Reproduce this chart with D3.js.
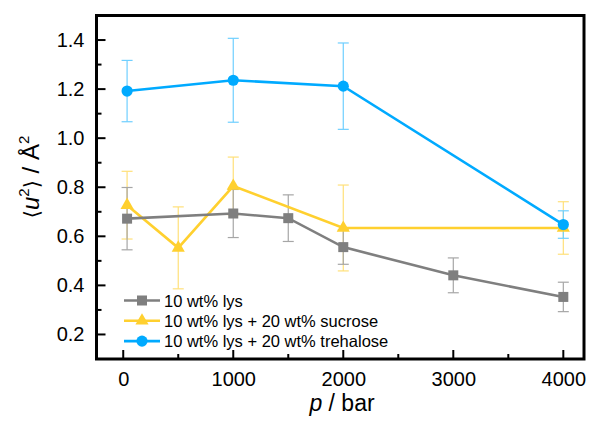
<!DOCTYPE html>
<html>
<head>
<meta charset="utf-8">
<script src="https://cdn.jsdelivr.net/npm/d3@7/dist/d3.min.js"></script>
<style>
  html, body { margin: 0; padding: 0; background: #fff; }
  svg { display: block; font-family: "Liberation Sans", Arial, sans-serif; }
</style>
</head>
<body>
<svg id="chart" width="590" height="421"></svg>
<script>
// ---- data ----
const lysP    = [35, 1000, 1500, 2000, 3000, 4000];
const lysU    = [0.672, 0.693, 0.674, 0.556, 0.441, 0.353];
const lysErr  = [0.127, 0.098, 0.095, 0.07, 0.071, 0.06];

const sucP    = [35, 500, 1000, 2000, 4000];
const sucU    = [0.727, 0.553, 0.805, 0.634, 0.634];
const sucErr  = [0.138, 0.167, 0.118, 0.175, 0.107];

const treP    = [35, 1000, 2000, 4000];
const treU    = [1.192, 1.236, 1.212, 0.648];
const treErr  = [0.125, 0.171, 0.176, 0.056];

const xTicks = [0, 1000, 2000, 3000, 4000];
const yTicks = [0.2, 0.4, 0.6, 0.8, 1.0, 1.2, 1.4];

const seriesNames = ['10 wt% lys', '10 wt% lys + 20 wt% sucrose', '10 wt% lys + 20 wt% trehalose'];

// ---- layout ----
const svg = d3.select('#chart');
const plot = { left: 96.5, right: 584, top: 15.5, bottom: 359 };

const x = d3.scaleLinear().domain([-243, 4188]).range([plot.left, plot.right]);
const y = d3.scaleLinear().domain([0.1, 1.5]).range([plot.bottom, plot.top]);

const series = [
  { name: seriesNames[1], p: sucP, u: sucU, e: sucErr, color: '#ffd02f', errColor: '#ffe07a', shape: 'triangle' },
  { name: seriesNames[0], p: lysP, u: lysU, e: lysErr, color: '#7f7f7f', errColor: '#a6a6a6', shape: 'square' },
  { name: seriesNames[2], p: treP, u: treU, e: treErr, color: '#00aaff', errColor: '#6fcfff', shape: 'circle' },
];

function marker(g, shape, color) {
  if (shape === 'square') {
    g.append('rect').attr('x', -5).attr('y', -5).attr('width', 10).attr('height', 10).attr('fill', color);
  } else if (shape === 'triangle') {
    g.append('path').attr('d', d3.symbol(d3.symbolTriangle, 75)()).attr('fill', color);
  } else {
    g.append('circle').attr('r', 5.6).attr('fill', color);
  }
}

// error bars
series.forEach(s => {
  const g = svg.append('g').attr('stroke', s.errColor).attr('stroke-width', 1.2);
  s.p.forEach((p, i) => {
    const cx = x(p);
    const y0 = y(s.u[i] - s.e[i]), y1 = y(s.u[i] + s.e[i]);
    g.append('line').attr('x1', cx).attr('x2', cx).attr('y1', y0).attr('y2', y1);
    g.append('line').attr('x1', cx - 5.5).attr('x2', cx + 5.5).attr('y1', y0).attr('y2', y0);
    g.append('line').attr('x1', cx - 5.5).attr('x2', cx + 5.5).attr('y1', y1).attr('y2', y1);
  });
});

// lines + markers
series.forEach(s => {
  const pts = s.p.map((p, i) => [x(p), y(s.u[i])]);
  svg.append('path')
    .attr('d', d3.line()(pts))
    .attr('fill', 'none')
    .attr('stroke', s.color)
    .attr('stroke-width', 2.6);
  pts.forEach(pt => {
    marker(svg.append('g').attr('transform', `translate(${pt[0]},${pt[1]})`), s.shape, s.color);
  });
});

// frame
svg.append('rect')
  .attr('x', plot.left).attr('y', plot.top)
  .attr('width', plot.right - plot.left).attr('height', plot.bottom - plot.top)
  .attr('fill', 'none').attr('stroke', '#000').attr('stroke-width', 3);

// axes (ticks pointing inward)
const xAxis = svg.append('g').attr('transform', `translate(0,${plot.bottom})`)
  .call(d3.axisBottom(x).tickValues(xTicks).tickSize(0).tickPadding(13).tickFormat(d3.format('d')));
xAxis.select('.domain').remove();
xAxis.selectAll('text').attr('font-size', 20).attr('fill', '#000').attr('font-family', 'Liberation Sans, Arial, sans-serif');

const yAxis = svg.append('g').attr('transform', `translate(${plot.left},0)`)
  .call(d3.axisLeft(y).tickValues(yTicks).tickSize(0).tickPadding(12).tickFormat(d3.format('.1f')));
yAxis.select('.domain').remove();
yAxis.selectAll('text').attr('font-size', 20).attr('fill', '#000').attr('font-family', 'Liberation Sans, Arial, sans-serif');

const tickG = svg.append('g').attr('stroke', '#000').attr('stroke-width', 2);
d3.range(0, 4001, 500).forEach(v => {
  const len = v % 1000 === 0 ? 9 : 5;
  tickG.append('line').attr('x1', x(v)).attr('x2', x(v)).attr('y1', plot.bottom).attr('y2', plot.bottom - len);
});
d3.range(2, 15).forEach(k => {
  const v = k / 10;
  const len = k % 2 === 0 ? 9 : 5;
  tickG.append('line').attr('x1', plot.left).attr('x2', plot.left + len).attr('y1', y(v)).attr('y2', y(v));
});

// axis titles
const xt = svg.append('text').attr('x', 342).attr('y', 411).attr('text-anchor', 'middle')
  .attr('font-size', 23).attr('fill', '#000');
xt.append('tspan').attr('font-style', 'italic').text('p');
xt.append('tspan').text(' / bar');

const yt = svg.append('text').attr('transform', 'translate(39,177) rotate(-90)').attr('text-anchor', 'middle')
  .attr('font-size', 24).attr('fill', '#000');
yt.append('tspan').attr('font-family', 'DejaVu Sans').attr('font-size', 21).text('\u27e8');
yt.append('tspan').attr('font-style', 'italic').text('u');
yt.append('tspan').attr('font-size', 15).attr('dy', -10).text('2');
yt.append('tspan').attr('dy', 10).attr('font-family', 'DejaVu Sans').attr('font-size', 21).text('\u27e9');
yt.append('tspan').text(' / Å');
yt.append('tspan').attr('font-size', 15).attr('dy', -10).text('2');

// legend
const legendOrder = [series[1], series[0], series[2]];
const lg = svg.append('g');
legendOrder.forEach((s, i) => {
  const ly = 300.5 + i * 20.3;
  lg.append('line').attr('x1', 124).attr('x2', 160).attr('y1', ly).attr('y2', ly)
    .attr('stroke', s.color).attr('stroke-width', 2.6);
  marker(lg.append('g').attr('transform', `translate(142,${ly})`), s.shape, s.color);
  lg.append('text').attr('x', 164).attr('y', ly + 6).attr('font-size', 16.5).attr('fill', '#000').text(s.name);
});
</script>
</body>
</html>
